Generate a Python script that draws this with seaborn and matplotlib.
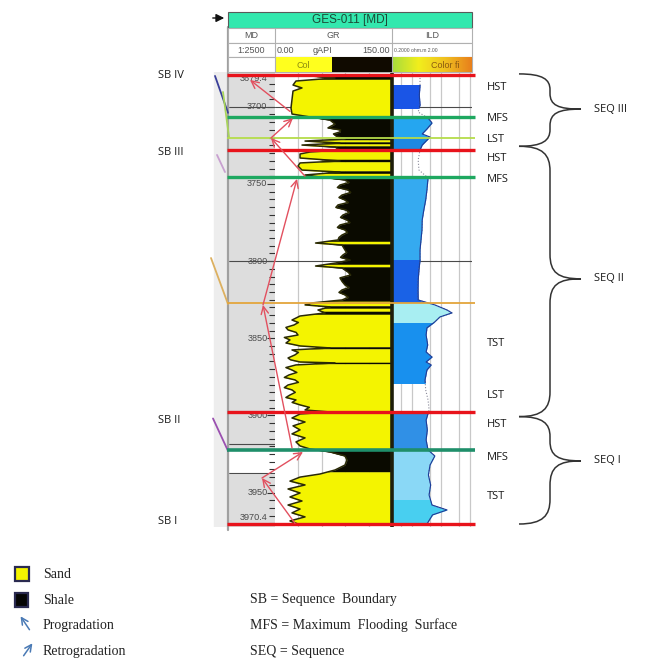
import numpy as np
import matplotlib
matplotlib.use("Agg")
import matplotlib.pyplot as plt
from matplotlib.colors import LinearSegmentedColormap
from matplotlib.patches import Rectangle, PathPatch
from matplotlib.path import Path
from matplotlib.ticker import MultipleLocator
import seaborn as sns

# ---- values (depth in m MD) ----
gr_depth = [3679.4, 3681.3, 3683.3, 3685.9, 3687.8, 3689.8, 3695.6, 3700.8, 3704.7, 3706.6,
            3708.6, 3711.2, 3712.5, 3713.7, 3715.0, 3716.3, 3717.6, 3718.9, 3720.9, 3722.2,
            3723.5, 3724.8, 3726.1, 3728.0, 3729.3, 3730.6, 3733.2, 3735.1, 3736.4, 3738.4,
            3741.0, 3742.3, 3744.2, 3745.5, 3747.4, 3749.0, 3750.7, 3752.3, 3753.9, 3755.5,
            3757.2, 3758.8, 3760.4, 3762.0, 3763.6, 3765.2, 3766.9, 3768.5, 3770.1, 3771.7,
            3773.4, 3775.0, 3776.6, 3778.2, 3779.8, 3781.4, 3783.1, 3784.7, 3786.3, 3788.3,
            3789.6, 3792.8, 3794.4, 3796.0, 3797.6, 3799.3, 3801.2, 3803.2, 3804.5, 3807.1,
            3809.0, 3810.9, 3813.2, 3815.5, 3817.1, 3818.7, 3820.3, 3821.9, 3823.5, 3825.2,
            3827.1, 3828.4, 3829.7, 3831.7, 3833.6, 3835.6, 3838.2, 3839.8, 3841.4, 3843.0,
            3844.6, 3846.2, 3847.9, 3849.5, 3851.1, 3853.1, 3855.0, 3856.3, 3857.6, 3859.2,
            3860.8, 3862.8, 3864.0, 3865.4, 3866.0, 3867.3, 3869.0, 3870.6, 3872.2, 3873.8,
            3875.4, 3877.0, 3878.6, 3880.3, 3882.0, 3883.5, 3885.1, 3886.8, 3888.4, 3890.0,
            3891.6, 3893.2, 3894.8, 3896.5, 3897.8, 3899.1, 3901.7, 3904.3, 3906.8, 3909.4,
            3912.0, 3914.6, 3917.2, 3919.8, 3921.8, 3923.7, 3926.3, 3928.9, 3932.2, 3935.4,
            3938.0, 3940.0, 3942.6, 3945.1, 3947.7, 3950.3, 3952.9, 3955.5, 3958.1, 3960.7,
            3963.2, 3965.8, 3968.4, 3970.4]
gr_value = [29.5, 76.9, 26.9, 23.1, 34.6, 23.1, 21.8, 20.5, 21.8, 44.9,
            70.5, 76.9, 72.0, 67.9, 84.0, 83.3, 75.0, 78.2, 89.7, 38.5,
            83.3, 34.6, 76.9, 83.3, 44.9, 32.1, 32.1, 83.3, 32.1, 29.5,
            34.6, 83.3, 38.5, 57.7, 89.7, 95.0, 83.3, 80.0, 93.6, 97.0,
            85.9, 82.0, 89.7, 94.0, 80.8, 78.0, 91.0, 95.0, 87.2, 84.0,
            92.3, 96.0, 83.3, 80.0, 89.7, 93.0, 85.9, 82.0, 80.8, 52.0,
            85.9, 89.7, 92.0, 87.2, 84.0, 96.2, 78.2, 52.0, 85.9, 93.6,
            97.0, 83.3, 86.0, 89.7, 95.0, 85.9, 82.0, 89.7, 94.0, 85.9,
            48.0, 38.5, 70.5, 55.1, 64.1, 32.1, 21.8, 30.0, 24.4, 14.0,
            16.7, 27.0, 29.5, 12.0, 19.2, 14.1, 32.1, 70.5, 21.8, 30.0,
            25.6, 16.7, 20.0, 32.1, 76.9, 26.9, 14.0, 21.8, 28.0, 17.9,
            12.0, 25.6, 30.0, 16.7, 12.0, 21.8, 26.0, 19.2, 14.0, 26.9,
            22.0, 32.1, 44.0, 38.5, 70.5, 32.1, 21.8, 38.5, 23.1, 32.1,
            21.8, 38.5, 26.9, 32.1, 44.9, 70.5, 89.7, 92.3, 89.7, 76.9,
            57.7, 32.1, 19.2, 38.5, 16.7, 32.1, 19.2, 34.6, 16.7, 32.1,
            21.8, 38.5, 19.2, 29.5]

ild_depth = [3679.4, 3685.9, 3692.4, 3698.8, 3703.4, 3707.3, 3710.5, 3714.4, 3717.6, 3719.6,
             3722.2, 3724.8, 3728.0, 3734.5, 3741.0, 3746.1, 3753.9, 3760.4, 3766.9, 3773.4,
             3779.8, 3786.3, 3792.8, 3799.3, 3805.8, 3812.3, 3818.7, 3825.2, 3828.4, 3831.7,
             3833.6, 3836.2, 3839.4, 3843.3, 3847.9, 3854.3, 3858.9, 3862.2, 3865.4, 3867.3,
             3870.6, 3877.0, 3883.5, 3890.0, 3896.5, 3903.0, 3909.4, 3915.9, 3922.4, 3926.3,
             3932.2, 3938.6, 3945.1, 3951.6, 3958.1, 3961.3, 3964.5, 3970.4]
ild_value = [1.85, 1.85, 1.75, 1.85, 1.6, 3.5, 4.8, 3.2, 2.2, 4.1,
             3.0, 2.2, 1.85, 1.6, 1.7, 3.5, 3.2, 2.9, 2.5, 2.2,
             2.16, 2.0, 1.85, 1.85, 1.7, 1.6, 1.58, 1.6, 6.0, 15.8,
             23.4, 9.0, 6.0, 3.2, 3.0, 3.4, 3.0, 4.8, 3.0, 4.5,
             3.2, 2.75, 2.9, 3.5, 3.8, 3.0, 3.3, 3.0, 3.5, 6.0,
             4.1, 3.6, 4.3, 3.8, 4.8, 15.8, 5.0, 3.2]

ild_zone_top = [3685.9, 3706.6, 3720.2, 3745.7, 3799.3, 3827.3, 3840.0, 3897.9, 3922.5, 3955.0]
ild_zone_base = [3700.8, 3720.2, 3728.2, 3799.3, 3827.3, 3840.0, 3879.0, 3922.5, 3955.0, 3970.4]

surface_depth = [3679.4, 3706.6, 3720.2, 3728.2, 3745.7, 3827.3, 3897.9, 3922.5, 3970.4]
surface_kind = ["SB", "MFS", "LST", "SB", "MFS", "TST", "SB", "MFS2", "SB"]

md_top, md_base = 3679.4, 3970.4
md_labels = [3700, 3750, 3800, 3850, 3900, 3950]
grid_depths = [3700, 3800]

tract_names = ["HST", "MFS", "LST", "HST", "MFS", "TST", "LST", "HST", "MFS", "TST"]
tract_depth = [3687.8, 3707.9, 3721.5, 3733.8, 3747.4, 3853.1, 3886.8, 3906.2, 3927.0, 3952.9]

seq_names = ["SEQ III", "SEQ II", "SEQ I"]
seq_top = [3678.7, 3725.6, 3900.8]
seq_base = [3725.6, 3900.8, 3970.4]
seq_mid = [3701.5, 3811.5, 3929.5]

sb_names = ["SB IV", "SB III", "SB II", "SB I"]
sb_depth = [3679.4, 3729.9, 3903.0, 3969.0]

trend_kind = ["prog", "retro", "prog", "retro", "prog", "retro", "prog"]
trend_from = [3970.0, 3940.6, 3921.0, 3828.4, 3745.0, 3720.2, 3703.0]
trend_to = [3940.6, 3923.7, 3828.4, 3746.7, 3720.2, 3707.3, 3682.6]

tie_top = [3680.0, 3690.4, 3731.2, 3798.0, 3902.0]
tie_base = [3703.9, 3719.6, 3742.3, 3827.8, 3923.0]

# ---- layout / style ----
W, H = 654, 661
TOP_PX, BOT_PX = 72, 527
PX_PER_M = 449 / 291.0
d_top = md_top - (75 - TOP_PX) / PX_PER_M
d_bot = md_base + (BOT_PX - 524) / PX_PER_M

GR_CUT = 60
YELLOW, SHALE = "#f4f400", "#0a0a00"
ild_zone_color = ["#1a55e6", "#25a6f0", "#1d88e2", "#35aaf0", "#1a62e6",
                  "#a8eef2", "#1890ee", "#3090e6", "#8ad8f6", "#48cff0"]
surface_style = {"SB": ("#e8131b", 2.4), "MFS": ("#1ea860", 2.4), "MFS2": ("#1f8f6a", 2.6),
                 "LST": ("#b5dc4a", 1.3), "TST": ("#e3a53c", 1.3)}
tie_color = ["#3a3f9a", "#a9d45a", "#c8a0d0", "#dcb060", "#9a50b0"]
tie_x = [(215, 228), (223, 229), (217, 225), (211, 228), (213, 228)]
trend_x = [(295, 262), (262, 303), (292, 263), (263, 297), (305, 271), (271, 293), (290, 250)]
ARROW_RED = "#e2505f"

sns.set_theme(style="white")
plt.rcParams["font.family"] = ["Liberation Sans", "DejaVu Sans"]

fig = plt.figure(figsize=(W / 100, H / 100), dpi=100)


def add_px_axes(x0, y0, x1, y1):
    return fig.add_axes([x0 / W, 1 - y1 / H, (x1 - x0) / W, (y1 - y0) / H])


def depth_axes(ax):
    ax.set_ylim(d_bot, d_top)
    for s in ax.spines.values():
        s.set_visible(False)
    ax.set_xlabel("")
    ax.set_ylabel("")


# ---- MD track ----
ax_md = add_px_axes(228, TOP_PX, 275, BOT_PX)
ax_md.set_facecolor("#dddddd")
ax_md.set_xlim(0, 1)
depth_axes(ax_md)
ax_md.axhspan(3922.5, 3937.6, color="white", zorder=0.5)
for d in grid_depths + [3918.7, 3937.6]:
    ax_md.axhline(d, color="#4a4a4a", lw=0.8, zorder=1)
ax_md.yaxis.set_major_locator(MultipleLocator(50))
ax_md.yaxis.set_minor_locator(MultipleLocator(5))
ax_md.yaxis.tick_right()
ax_md.tick_params(axis="y", which="both", direction="in", color="#333333", width=0.8,
                  labelright=False, labelleft=False, pad=0)
ax_md.tick_params(axis="y", which="major", length=6)
ax_md.tick_params(axis="y", which="minor", length=4)
ax_md.set_xticks([])
lab = dict(ha="right", va="center", fontsize=6.6, color="#4a4a4a")
for d in md_labels:
    ax_md.text(0.84, d, str(d), **lab)
ax_md.text(0.84, md_top + 2.2, f"{md_top:.1f}", **lab)
ax_md.text(0.84, md_base - 4.0, f"{md_base:.1f}", **lab)

# ---- GR track ----
ax_gr = add_px_axes(275, TOP_PX, 392, BOT_PX)
ax_gr.set_facecolor("white")
for g in [30, 60, 90, 120]:
    ax_gr.axvline(g, color="#c8c8c8", lw=0.9, zorder=0.2)
for d in grid_depths:
    ax_gr.axhline(d, color="#4a4a4a", lw=0.8, zorder=0.5)

gd = np.asarray(gr_depth)
gv = np.asarray(gr_value)
n = len(gd)
mid_d = (gd[:-1] + gd[1:]) / 2
mid_g = (gv[:-1] + gv[1:]) / 2
is_shale = gv >= GR_CUT
i = 0
while i < n:
    j = i
    while j + 1 < n and is_shale[j + 1] == is_shale[i]:
        j += 1
    ys = [gd[0] if i == 0 else mid_d[i - 1]] + list(gd[i:j + 1]) + [gd[-1] if j == n - 1 else mid_d[j]]
    xs = [gv[0] if i == 0 else mid_g[i - 1]] + list(gv[i:j + 1]) + [gv[-1] if j == n - 1 else mid_g[j]]
    c = SHALE if is_shale[i] else YELLOW
    ax_gr.fill_betweenx(ys, xs, 150, color=c, lw=0.3, edgecolor=c, zorder=1)
    i = j + 1

sns.lineplot(x=gr_value, y=gr_depth, orient="y", sort=False, estimator=None,
             color="#2a2a05", linewidth=1.1, ax=ax_gr, zorder=2)
ax_gr.set_xlim(0, 150)
depth_axes(ax_gr)
ax_gr.set_xticks([])
ax_gr.set_yticks([])

# ---- ILD track (cropped log scale) ----
ax_ild = add_px_axes(392, TOP_PX, 472, BOT_PX)
ax_ild.set_facecolor("white")
ax_ild.set_xscale("log")
ild_max = 0.2 * 10 ** (80 / 29)
for v in [0.4, 1, 4, 10, 40, 100]:
    ax_ild.axvline(v, color="#c8c8c8", lw=0.9, zorder=0.2)
for d in grid_depths:
    ax_ild.axhline(d, color="#4a4a4a", lw=0.8, zorder=0.5)
sns.lineplot(x=ild_value, y=ild_depth, orient="y", sort=False, estimator=None,
             color="#8a8a9a", linewidth=0.8, linestyle=":", ax=ax_ild, zorder=1.5)
for top, base, c in zip(ild_zone_top, ild_zone_base, ild_zone_color):
    clip = Rectangle((0.1, top), 1000, base - top, transform=ax_ild.transData)
    poly = ax_ild.fill_betweenx(ild_depth, 0.2, ild_value, color=c, lw=0, zorder=1)
    poly.set_clip_path(clip)
    ln, = ax_ild.plot(ild_value, ild_depth, color="#1c3c9a", lw=0.8, zorder=2)
    ln.set_clip_path(clip)
ax_ild.set_xlim(0.2, ild_max)
depth_axes(ax_ild)
ax_ild.set_xticks([], minor=False)
ax_ild.set_xticks([], minor=True)
ax_ild.set_yticks([])

# ---- overlay in depth coordinates (surfaces, trends, labels, braces) ----
ax_ov = add_px_axes(0, TOP_PX, W, BOT_PX)
ax_ov.set_xlim(0, W)
ax_ov.set_ylim(d_bot, d_top)
ax_ov.axis("off")

ax_ov.add_patch(Rectangle((214, d_top - 34), 14, d_bot - d_top + 36, color="#ededed", zorder=0))
ax_ov.plot([228, 228], [d_top - 29, d_bot + 2], color="#a0a0a0", lw=1.6, zorder=1, clip_on=False)
ax_ov.plot([392, 392], [d_top, d_bot], color="#1e1e0a", lw=2.6, zorder=2)

for x, (t, b), c in zip(tie_x, zip(tie_top, tie_base), tie_color):
    ax_ov.plot([x[0], x[1]], [t, b], color=c, lw=1.3, zorder=3)

for d, k in zip(surface_depth, surface_kind):
    c, lw = surface_style[k]
    ax_ov.plot([227, 475], [d, d], color=c, lw=lw, solid_capstyle="butt", zorder=4, clip_on=False)

for (x0, x1), d0, d1 in zip(trend_x, trend_from, trend_to):
    ax_ov.annotate("", xy=(x1, d1), xytext=(x0, d0),
                   arrowprops=dict(arrowstyle="->,head_length=0.45,head_width=0.22",
                                   color=ARROW_RED, lw=1.0, shrinkA=0, shrinkB=0), zorder=5)

for name, d in zip(sb_names, sb_depth):
    ax_ov.text(158, d, name, ha="left", va="center", fontsize=8, color="#1a1a1a",
               family=["Open Sans", "DejaVu Sans"])
for name, d in zip(tract_names, tract_depth):
    ax_ov.text(487, d, name, ha="left", va="center", fontsize=8, color="#1a1a1a",
               family=["Open Sans", "DejaVu Sans"])


def brace(ax, top, base, mid, x0=519, x1=550, x2=581):
    a1 = min(16, (mid - top) * 0.45)
    a2 = min(16, (base - mid) * 0.45)
    verts = [(x0, top), (x0 + 24, top), (x1, top + a1 * 0.35), (x1, top + a1),
             (x1, mid - a1),
             (x1, mid - a1 * 0.25), (x1 + 8, mid), (x2, mid),
             (x1 + 8, mid), (x1, mid + a2 * 0.25), (x1, mid + a2),
             (x1, base - a2),
             (x1, base - a2 * 0.35), (x0 + 24, base), (x0, base)]
    codes = [Path.MOVETO, Path.CURVE4, Path.CURVE4, Path.CURVE4,
             Path.LINETO,
             Path.CURVE4, Path.CURVE4, Path.CURVE4,
             Path.CURVE4, Path.CURVE4, Path.CURVE4,
             Path.LINETO,
             Path.CURVE4, Path.CURVE4, Path.CURVE4]
    ax.add_patch(PathPatch(Path(verts, codes), fill=False, edgecolor="#333333", lw=1.1,
                           clip_on=False))


for name, t, b, m in zip(seq_names, seq_top, seq_base, seq_mid):
    brace(ax_ov, t, b, m)
    ax_ov.text(594, m, name, ha="left", va="center", fontsize=8, color="#1a1a1a",
               family=["Open Sans", "DejaVu Sans"])

# ---- header and legend in figure pixels ----
ax_f = fig.add_axes([0, 0, 1, 1])
ax_f.set_xlim(0, W)
ax_f.set_ylim(H, 0)
ax_f.axis("off")

ax_f.add_patch(Rectangle((228, 12), 244, 16, facecolor="#33e8ae", edgecolor="#5a5a5a", lw=0.8))
ax_f.text(350, 20.5, "GES-011 [MD]", ha="center", va="center", fontsize=8.5, color="#1c4a36")
ax_f.annotate("", xy=(227, 18), xytext=(210, 18),
              arrowprops=dict(arrowstyle="-|>,head_length=0.4,head_width=0.2", color="#111111", lw=1.0))
for y0, y1 in [(28, 43), (43, 57), (57, 72)]:
    ax_f.add_patch(Rectangle((228, y0), 244, y1 - y0, facecolor="white", edgecolor="#b0b0b0", lw=0.8))
ax_f.add_patch(Rectangle((275, 57), 57, 15, facecolor="#ffff1e", lw=0))
ax_f.add_patch(Rectangle((332, 57), 60, 15, facecolor="#100a00", lw=0))
cmap = LinearSegmentedColormap.from_list("hdr", ["#a8dc3c", "#f2ee1c", "#f0c020", "#e8801c"])
ax_f.imshow(np.linspace(0, 1, 64)[None, :], extent=(392, 472, 72, 57), cmap=cmap, aspect="auto", zorder=1)
for x in [275, 392]:
    ax_f.plot([x, x], [28, 72], color="#b0b0b0", lw=0.8)
hdr = dict(va="center", fontsize=6.5, color="#555555")
ax_f.text(251, 36, "MD", ha="center", **hdr)
ax_f.text(333, 36, "GR", ha="center", **hdr)
ax_f.text(432, 36, "ILD", ha="center", **hdr)
ax_f.text(251, 50.5, "1:2500", ha="center", **hdr)
ax_f.text(277, 50.5, "0.00", ha="left", **hdr)
ax_f.text(322, 50.5, "gAPI", ha="center", **hdr)
ax_f.text(390, 50.5, "150.00", ha="right", **hdr)
ax_f.text(394, 50.5, "0.2000 ohm.m 2.00", ha="left", va="center", fontsize=3.6, color="#555555")
ax_f.text(303, 65, "Col", ha="center", va="center", fontsize=6.5, color="#8a8a10")
ax_f.text(445, 65, "Color fi", ha="center", va="center", fontsize=6.5, color="#8a5a10")
ax_f.set_xlim(0, W)
ax_f.set_ylim(H, 0)

# legend
ax_f.add_patch(Rectangle((15, 567), 14, 14, facecolor="#f5f500", edgecolor="#2a2a50", lw=1.6))
ax_f.add_patch(Rectangle((15, 593), 13, 14, facecolor="#050505", edgecolor="#2a2a50", lw=1.6))
ax_f.annotate("", xy=(19, 614), xytext=(31, 632),
              arrowprops=dict(arrowstyle="->,head_length=0.4,head_width=0.2", color="#4a7ab5", lw=1.1))
ax_f.annotate("", xy=(34, 641), xytext=(22, 658),
              arrowprops=dict(arrowstyle="->,head_length=0.4,head_width=0.2", color="#4a7ab5", lw=1.1))
leg = dict(ha="left", va="center", fontsize=10, color="#222222", family=["Liberation Serif", "DejaVu Serif"])
ax_f.text(43, 574, "Sand", **leg)
ax_f.text(43, 600, "Shale", **leg)
ax_f.text(43, 625, "Progradation", **leg)
ax_f.text(43, 651, "Retrogradation", **leg)
ax_f.text(250, 600, "SB = Sequence  Boundary", **leg)
ax_f.text(250, 625, "MFS = Maximum  Flooding  Surface", **leg)
ax_f.text(250, 651, "SEQ = Sequence", **leg)

fig.savefig("out.png", dpi=100)
